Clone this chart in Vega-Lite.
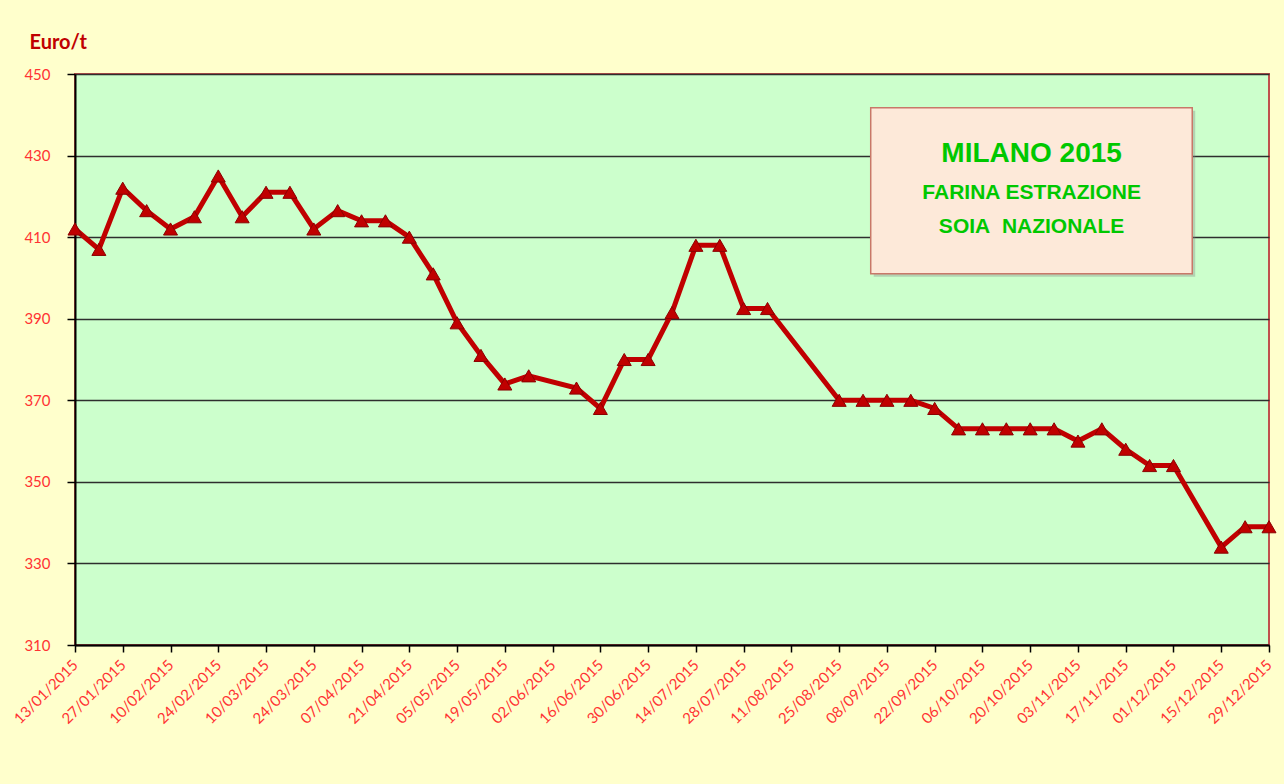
{
  "$schema": "https://vega.github.io/schema/vega-lite/v6.json",
  "width": 1194,
  "height": 571,
  "autosize": {"type": "none"},
  "padding": {"left": 75, "top": 74, "right": 15, "bottom": 139},
  "background": "#FFFFCC",
  "config": {
    "view": {"fill": "#CCFFCC", "stroke": "#C0504D", "strokeWidth": 2},
    "axis": {"labelFont": "Lato", "labelFontSize": 15, "labelColor": "#FF3333", "domainColor": "#000000", "domainWidth": 2, "tickColor": "#000000", "tickWidth": 1.5}
  },
  "datasets": {
    "prices": [
      {"date": "2015-01-13", "price": 412},
      {"date": "2015-01-20", "price": 407},
      {"date": "2015-01-27", "price": 422},
      {"date": "2015-02-03", "price": 416.5},
      {"date": "2015-02-10", "price": 412},
      {"date": "2015-02-17", "price": 415},
      {"date": "2015-02-24", "price": 425},
      {"date": "2015-03-03", "price": 415},
      {"date": "2015-03-10", "price": 421},
      {"date": "2015-03-17", "price": 421},
      {"date": "2015-03-24", "price": 412},
      {"date": "2015-03-31", "price": 416.5},
      {"date": "2015-04-07", "price": 414},
      {"date": "2015-04-14", "price": 414},
      {"date": "2015-04-21", "price": 410},
      {"date": "2015-04-28", "price": 401},
      {"date": "2015-05-05", "price": 389},
      {"date": "2015-05-12", "price": 381},
      {"date": "2015-05-19", "price": 374},
      {"date": "2015-05-26", "price": 376},
      {"date": "2015-06-09", "price": 373},
      {"date": "2015-06-16", "price": 368},
      {"date": "2015-06-23", "price": 380},
      {"date": "2015-06-30", "price": 380},
      {"date": "2015-07-07", "price": 391.5},
      {"date": "2015-07-14", "price": 408},
      {"date": "2015-07-21", "price": 408},
      {"date": "2015-07-28", "price": 392.5},
      {"date": "2015-08-04", "price": 392.5},
      {"date": "2015-08-25", "price": 370},
      {"date": "2015-09-01", "price": 370},
      {"date": "2015-09-08", "price": 370},
      {"date": "2015-09-15", "price": 370},
      {"date": "2015-09-22", "price": 368},
      {"date": "2015-09-29", "price": 363},
      {"date": "2015-10-06", "price": 363},
      {"date": "2015-10-13", "price": 363},
      {"date": "2015-10-20", "price": 363},
      {"date": "2015-10-27", "price": 363},
      {"date": "2015-11-03", "price": 360},
      {"date": "2015-11-10", "price": 363},
      {"date": "2015-11-17", "price": 358},
      {"date": "2015-11-24", "price": 354},
      {"date": "2015-12-01", "price": 354},
      {"date": "2015-12-15", "price": 334},
      {"date": "2015-12-22", "price": 339},
      {"date": "2015-12-29", "price": 339}
    ],
    "titles": [
      {"line": 1, "label": "MILANO 2015"},
      {"line": 2, "label": "FARINA ESTRAZIONE"},
      {"line": 3, "label": "SOIA\u00a0 NAZIONALE"}
    ]
  },
  "data": {"name": "prices"},
  "layer": [
    {
      "data": {"name": "titles"},
      "transform": [{"filter": "datum.line == 1"}],
      "mark": {"type": "rect", "fill": "#808080", "opacity": 0.35, "xOffset": 3, "x2Offset": 3, "yOffset": 3, "y2Offset": 3},
      "encoding": {
        "x": {"datum": 1441260000000, "type": "temporal"},
        "x2": {"datum": 1449403200000},
        "y": {"datum": 441.7, "type": "quantitative"},
        "y2": {"datum": 401.05}
      }
    },
    {
      "data": {"name": "titles"},
      "transform": [{"filter": "datum.line == 1"}],
      "mark": {"type": "rect", "fill": "#FDE9D9", "stroke": "#C87868", "strokeWidth": 1.5},
      "encoding": {
        "x": {"datum": 1441260000000, "type": "temporal"},
        "x2": {"datum": 1449403200000},
        "y": {"datum": 441.7, "type": "quantitative"},
        "y2": {"datum": 401.05}
      }
    },
    {
      "mark": {
        "type": "line", "color": "#C00000", "strokeWidth": 5,
        "point": {"shape": "triangle-up", "size": 196, "filled": true, "fill": "#C00000", "stroke": "#8B0000", "strokeWidth": 1}
      },
      "encoding": {
        "x": {
          "field": "date", "type": "temporal",
          "scale": {"type": "utc", "domain": [{"year": 2015, "month": 1, "date": 13, "utc": true}, {"year": 2015, "month": 12, "date": 29, "utc": true}]},
          "axis": {
            "title": null, "grid": false, "format": "%d/%m/%Y",
            "labelAngle": -45, "labelAlign": "right", "labelBaseline": "middle", "labelPadding": 10, "tickSize": 7, "labelOverlap": false,
            "values": [
              {"year": 2015, "month": 1, "date": 13, "utc": true},
              {"year": 2015, "month": 1, "date": 27, "utc": true},
              {"year": 2015, "month": 2, "date": 10, "utc": true},
              {"year": 2015, "month": 2, "date": 24, "utc": true},
              {"year": 2015, "month": 3, "date": 10, "utc": true},
              {"year": 2015, "month": 3, "date": 24, "utc": true},
              {"year": 2015, "month": 4, "date": 7, "utc": true},
              {"year": 2015, "month": 4, "date": 21, "utc": true},
              {"year": 2015, "month": 5, "date": 5, "utc": true},
              {"year": 2015, "month": 5, "date": 19, "utc": true},
              {"year": 2015, "month": 6, "date": 2, "utc": true},
              {"year": 2015, "month": 6, "date": 16, "utc": true},
              {"year": 2015, "month": 6, "date": 30, "utc": true},
              {"year": 2015, "month": 7, "date": 14, "utc": true},
              {"year": 2015, "month": 7, "date": 28, "utc": true},
              {"year": 2015, "month": 8, "date": 11, "utc": true},
              {"year": 2015, "month": 8, "date": 25, "utc": true},
              {"year": 2015, "month": 9, "date": 8, "utc": true},
              {"year": 2015, "month": 9, "date": 22, "utc": true},
              {"year": 2015, "month": 10, "date": 6, "utc": true},
              {"year": 2015, "month": 10, "date": 20, "utc": true},
              {"year": 2015, "month": 11, "date": 3, "utc": true},
              {"year": 2015, "month": 11, "date": 17, "utc": true},
              {"year": 2015, "month": 12, "date": 1, "utc": true},
              {"year": 2015, "month": 12, "date": 15, "utc": true},
              {"year": 2015, "month": 12, "date": 29, "utc": true}
            ]
          }
        },
        "y": {
          "field": "price", "type": "quantitative",
          "scale": {"domain": [310, 450], "nice": false, "zero": false},
          "axis": {
            "title": "Euro/t", "titleAngle": 0, "titleAlign": "left", "titleBaseline": "alphabetic",
            "titleX": -46, "titleY": -26, "titleFont": "Lato", "titleFontSize": 20, "titleFontWeight": "bold", "titleColor": "#C00000",
            "values": [310, 330, 350, 370, 390, 410, 430, 450],
            "grid": true, "gridColor": "#2E2E2E", "gridWidth": 1.3,
            "tickSize": 8, "labelPadding": 17
          }
        }
      }
    },
    {
      "data": {"name": "titles"},
      "transform": [{"filter": "datum.line == 1"}],
      "mark": {"type": "text", "font": "Liberation Sans", "fontWeight": "bold", "fontSize": 28, "color": "#00C800", "align": "center", "baseline": "middle"},
      "encoding": {
        "x": {"datum": 1445335200000, "type": "temporal"},
        "y": {"datum": 430.4, "type": "quantitative"},
        "text": {"field": "label"}
      }
    },
    {
      "data": {"name": "titles"},
      "transform": [{"filter": "datum.line == 2"}],
      "mark": {"type": "text", "font": "Liberation Sans", "fontWeight": "bold", "fontSize": 21, "color": "#00C800", "align": "center", "baseline": "middle"},
      "encoding": {
        "x": {"datum": 1445335200000, "type": "temporal"},
        "y": {"datum": 420.9, "type": "quantitative"},
        "text": {"field": "label"}
      }
    },
    {
      "data": {"name": "titles"},
      "transform": [{"filter": "datum.line == 3"}],
      "mark": {"type": "text", "font": "Liberation Sans", "fontWeight": "bold", "fontSize": 21, "color": "#00C800", "align": "center", "baseline": "middle"},
      "encoding": {
        "x": {"datum": 1445335200000, "type": "temporal"},
        "y": {"datum": 412.4, "type": "quantitative"},
        "text": {"field": "label"}
      }
    }
  ]
}
